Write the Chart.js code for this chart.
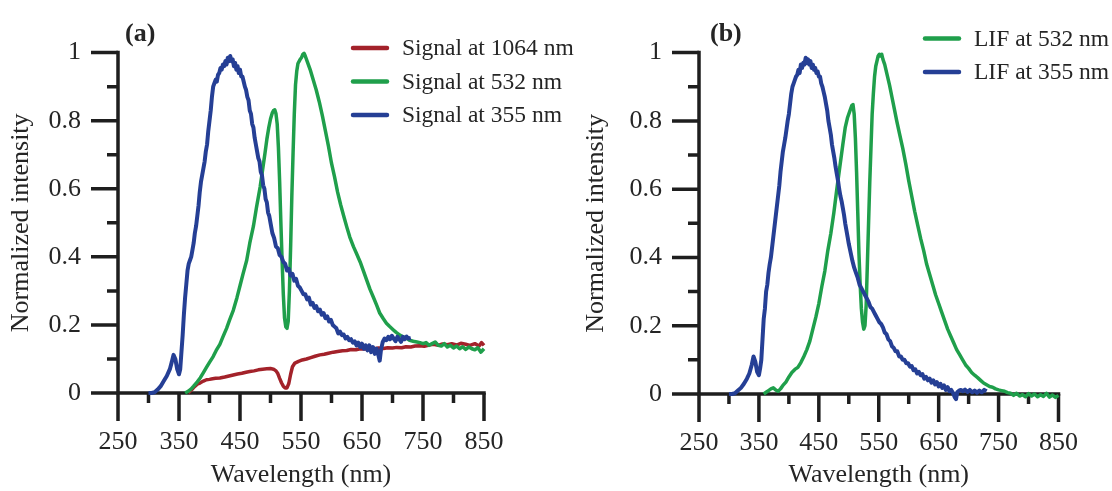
<!DOCTYPE html>
<html>
<head>
<meta charset="utf-8">
<script src="https://cdn.jsdelivr.net/npm/chart.js@4.4.1/dist/chart.umd.min.js"></script>
<style>
  html, body { margin: 0; padding: 0; background: #fff; }
  .panel { position: absolute; top: 0; height: 491px; }
</style>
</head>
<body>
<div class="panel" style="left:0;width:620px"><canvas id="chartA" width="620" height="491"></canvas></div>
<div class="panel" style="left:556px;width:556px"><canvas id="chartB" width="556" height="491"></canvas></div>
<script>
// axis ticks
const xTicks = [250, 350, 450, 550, 650, 750, 850];
const xTickLabels = ['250', '350', '450', '550', '650', '750', '850'];
const xMinorTicks = [300, 400, 500, 600, 700, 800];
const yTicks = [0, 0.2, 0.4, 0.6, 0.8, 1];
const yTickLabels = ['0', '0.2', '0.4', '0.6', '0.8', '1'];
const yMinorTicks = [0.1, 0.3, 0.5, 0.7, 0.9];

// (a) signals, [wavelength nm, normalized intensity]
const signal1064 = [[365,0],[370,0.008],[375,0.018],[380,0.026],[385,0.03],[390,0.035],[395,0.039],[400,0.04],[405,0.042],[410,0.043],[417,0.044],[425,0.047],[432,0.05],[439,0.053],[446,0.056],[453,0.058],[460,0.061],[466,0.063],[473,0.065],[480,0.068],[487,0.07],[494,0.071],[500,0.072],[505,0.07],[509,0.065],[512,0.057],[515,0.043],[518,0.03],[521,0.02],[524,0.015],[527,0.015],[530,0.028],[533,0.055],[536,0.077],[540,0.088],[546,0.093],[552,0.097],[559,0.1],[566,0.104],[573,0.108],[581,0.112],[588,0.114],[595,0.117],[603,0.12],[610,0.122],[618,0.124],[625,0.125],[632,0.128],[640,0.127],[647,0.13],[655,0.129],[662,0.131],[670,0.13],[677,0.132],[685,0.131],[692,0.133],[700,0.132],[707,0.134],[715,0.133],[722,0.136],[730,0.135],[737,0.138],[745,0.139],[752,0.137],[760,0.141],[767,0.143],[775,0.14],[782,0.144],[790,0.142],[797,0.145],[805,0.141],[812,0.146],[820,0.143],[827,0.14],[835,0.145],[842,0.138],[846,0.148],[850,0.14]];

const signal532 = [[360,0],[365,0.005],[370,0.012],[374,0.02],[380,0.033],[385,0.045],[390,0.06],[395,0.075],[400,0.09],[406,0.107],[411,0.125],[417,0.143],[422,0.165],[428,0.19],[433,0.215],[439,0.243],[445,0.28],[450,0.315],[455,0.35],[461,0.39],[466,0.44],[472,0.49],[477,0.545],[483,0.605],[487,0.655],[491,0.705],[494,0.745],[497,0.778],[500,0.805],[503,0.823],[505,0.83],[507,0.832],[509,0.82],[511,0.79],[513,0.72],[515,0.62],[517,0.5],[519,0.39],[521,0.29],[523,0.22],[525,0.195],[527,0.19],[529,0.21],[531,0.3],[533,0.43],[535,0.58],[537,0.705],[539,0.82],[541,0.905],[543,0.945],[545,0.968],[548,0.978],[551,0.986],[553,0.995],[555,0.998],[557,0.99],[560,0.975],[565,0.95],[570,0.92],[575,0.89],[580,0.855],[585,0.815],[590,0.77],[595,0.725],[600,0.675],[605,0.635],[610,0.59],[615,0.553],[620,0.52],[625,0.488],[630,0.458],[636,0.43],[641,0.41],[647,0.385],[652,0.36],[658,0.33],[663,0.305],[669,0.28],[674,0.258],[679,0.235],[685,0.218],[690,0.205],[695,0.196],[701,0.186],[706,0.178],[712,0.17],[717,0.165],[723,0.161],[728,0.155],[734,0.152],[740,0.15],[745,0.148],[750,0.145],[755,0.148],[760,0.14],[765,0.145],[770,0.15],[775,0.14],[780,0.138],[785,0.145],[790,0.135],[795,0.14],[800,0.132],[805,0.138],[810,0.13],[815,0.136],[820,0.128],[825,0.135],[830,0.13],[835,0.127],[840,0.133],[845,0.12],[850,0.13]];

const signal355 = [[300,0],[305,0],[310,0.002],[315,0.01],[320,0.02],[325,0.035],[330,0.05],[335,0.07],[338,0.09],[341,0.112],[344,0.1],[347,0.07],[350,0.055],[352,0.07],[354,0.12],[356,0.17],[358,0.23],[360,0.28],[362,0.32],[364,0.36],[366,0.38],[368,0.39],[370,0.4],[372,0.42],[374,0.44],[376,0.47],[378,0.49],[380,0.52],[382,0.55],[384,0.59],[386,0.62],[388,0.64],[390,0.66],[392,0.68],[394,0.71],[396,0.73],[398,0.77],[400,0.8],[402,0.83],[404,0.87],[406,0.9],[408,0.91],[410,0.92],[412,0.915],[414,0.935],[416,0.94],[418,0.955],[420,0.95],[422,0.965],[424,0.96],[426,0.975],[428,0.965],[430,0.985],[432,0.975],[434,0.99],[436,0.975],[438,0.98],[440,0.96],[442,0.97],[444,0.95],[446,0.96],[448,0.94],[450,0.95],[452,0.93],[454,0.93],[456,0.915],[458,0.9],[460,0.89],[462,0.87],[464,0.86],[466,0.83],[468,0.82],[470,0.79],[472,0.78],[474,0.75],[476,0.73],[478,0.71],[480,0.69],[482,0.68],[484,0.65],[486,0.64],[488,0.61],[490,0.6],[492,0.57],[494,0.56],[496,0.53],[498,0.52],[500,0.5],[503,0.47],[506,0.455],[509,0.43],[512,0.425],[515,0.405],[518,0.4],[521,0.385],[524,0.38],[527,0.36],[530,0.365],[533,0.345],[536,0.35],[539,0.33],[542,0.335],[545,0.315],[548,0.31],[551,0.3],[554,0.29],[557,0.29],[560,0.275],[563,0.28],[566,0.26],[569,0.265],[572,0.25],[575,0.255],[578,0.24],[581,0.245],[584,0.23],[587,0.235],[590,0.22],[593,0.225],[596,0.21],[599,0.215],[602,0.2],[605,0.195],[608,0.19],[611,0.175],[614,0.18],[617,0.17],[620,0.172],[623,0.16],[626,0.165],[629,0.155],[632,0.158],[635,0.148],[638,0.152],[641,0.14],[644,0.148],[647,0.135],[650,0.145],[653,0.13],[656,0.14],[659,0.125],[662,0.14],[665,0.12],[668,0.135],[671,0.115],[674,0.13],[677,0.11],[679,0.095],[681,0.125],[684,0.15],[687,0.16],[690,0.155],[693,0.165],[696,0.158],[699,0.168],[702,0.16],[705,0.152],[708,0.165],[711,0.158],[714,0.15],[717,0.165],[720,0.158],[723,0.166],[726,0.16],[730,0.162]];

// (b) LIF
const lif532 = [[358,0],[362,0.005],[366,0.01],[370,0.015],[374,0.018],[378,0.012],[382,0.008],[386,0.015],[390,0.025],[395,0.035],[400,0.05],[405,0.063],[410,0.072],[415,0.078],[420,0.092],[425,0.11],[430,0.13],[435,0.155],[440,0.19],[445,0.225],[450,0.265],[455,0.315],[460,0.36],[465,0.42],[470,0.47],[475,0.53],[480,0.6],[485,0.665],[490,0.73],[494,0.78],[498,0.81],[502,0.83],[505,0.845],[507,0.848],[509,0.82],[511,0.75],[513,0.65],[515,0.53],[517,0.41],[519,0.32],[521,0.25],[523,0.21],[525,0.19],[527,0.2],[529,0.26],[531,0.38],[533,0.5],[535,0.62],[537,0.72],[539,0.82],[541,0.88],[543,0.93],[545,0.96],[547,0.975],[549,0.99],[551,0.995],[553,0.99],[555,0.995],[557,0.98],[560,0.965],[564,0.935],[568,0.905],[572,0.87],[576,0.835],[580,0.8],[585,0.76],[590,0.72],[595,0.675],[600,0.625],[605,0.58],[610,0.535],[615,0.495],[620,0.455],[625,0.42],[630,0.38],[635,0.35],[640,0.32],[645,0.29],[650,0.265],[655,0.24],[660,0.215],[665,0.19],[670,0.17],[675,0.15],[680,0.13],[685,0.115],[690,0.1],[695,0.085],[700,0.075],[705,0.063],[710,0.055],[715,0.048],[720,0.04],[725,0.032],[730,0.027],[735,0.022],[740,0.02],[745,0.015],[750,0.012],[755,0.01],[760,0.008],[765,0.004],[770,0.002],[775,-0.004],[780,0.002],[785,-0.006],[790,-0.002],[795,-0.008],[800,0.001],[805,-0.006],[810,0],[815,-0.008],[820,-0.002],[825,-0.007],[830,0.002],[835,-0.009],[840,-0.003],[845,-0.01],[850,-0.004]];

const lif355 = [[300,0],[305,0],[310,0.002],[315,0.01],[320,0.018],[325,0.03],[330,0.045],[334,0.06],[338,0.085],[341,0.11],[344,0.095],[347,0.065],[350,0.055],[352,0.075],[354,0.1],[356,0.16],[358,0.22],[360,0.25],[362,0.3],[364,0.32],[366,0.355],[368,0.38],[370,0.4],[372,0.43],[374,0.46],[376,0.49],[378,0.52],[380,0.55],[382,0.58],[384,0.61],[386,0.65],[388,0.68],[390,0.71],[392,0.73],[394,0.75],[396,0.775],[398,0.8],[400,0.82],[402,0.85],[404,0.88],[406,0.9],[408,0.91],[410,0.92],[412,0.93],[414,0.935],[416,0.95],[418,0.94],[420,0.965],[422,0.955],[424,0.97],[426,0.965],[428,0.985],[430,0.97],[432,0.98],[434,0.965],[436,0.975],[438,0.955],[440,0.965],[442,0.95],[444,0.955],[446,0.94],[448,0.945],[450,0.93],[452,0.93],[454,0.91],[456,0.9],[458,0.885],[460,0.87],[462,0.85],[464,0.83],[466,0.8],[468,0.78],[470,0.76],[472,0.73],[474,0.71],[476,0.69],[478,0.665],[480,0.645],[482,0.625],[484,0.6],[486,0.58],[488,0.565],[490,0.545],[492,0.525],[494,0.5],[496,0.48],[498,0.46],[500,0.44],[503,0.415],[506,0.39],[509,0.37],[512,0.355],[515,0.34],[518,0.32],[521,0.31],[524,0.3],[527,0.29],[530,0.28],[533,0.27],[536,0.255],[539,0.25],[542,0.24],[545,0.23],[548,0.22],[551,0.21],[554,0.205],[557,0.195],[560,0.18],[563,0.175],[566,0.16],[569,0.155],[572,0.14],[575,0.135],[578,0.125],[581,0.125],[584,0.11],[587,0.11],[590,0.1],[593,0.1],[596,0.09],[599,0.09],[602,0.08],[605,0.082],[608,0.07],[611,0.072],[614,0.06],[617,0.065],[620,0.055],[623,0.058],[626,0.045],[629,0.05],[632,0.04],[635,0.045],[638,0.033],[641,0.04],[644,0.028],[647,0.035],[650,0.022],[653,0.03],[656,0.018],[659,0.025],[662,0.012],[665,0.02],[668,0.008],[671,0.012],[674,0.003],[677,-0.01],[679,-0.015],[681,0.005],[684,0.01],[687,0.012],[690,0.008],[694,0.013],[698,0.006],[702,0.012],[706,0.005],[710,0.01],[714,0.004],[718,0.01],[722,0.005],[726,0.012],[730,0.008]];

const RED = '#a3222a';
const GREEN = '#1f9f4b';
const BLUE = '#253f95';
const INK = '#252525';
const SERIF = "'Liberation Serif', 'Times New Roman', serif";

const toPoints = arr => arr.map(([x, y]) => ({ x, y }));

// thick axes with outward major / minor ticks
const axesPlugin = {
    id: 'paperAxes',
    beforeDatasetsDraw(chart) {
        const { ctx, chartArea: a, scales: { x, y } } = chart;
        ctx.save();
        ctx.strokeStyle = '#1e1e1e';
        ctx.lineWidth = 3.5;
        ctx.lineCap = 'square';
        ctx.beginPath();
        ctx.moveTo(a.left, a.top);
        ctx.lineTo(a.left, a.bottom);
        ctx.lineTo(a.right, a.bottom);
        ctx.stroke();
        ctx.lineCap = 'butt';
        ctx.beginPath();
        xTicks.forEach(v => { const p = x.getPixelForValue(v); ctx.moveTo(p, a.bottom); ctx.lineTo(p, a.bottom + 28); });
        xMinorTicks.forEach(v => { const p = x.getPixelForValue(v); ctx.moveTo(p, a.bottom); ctx.lineTo(p, a.bottom + 10); });
        yTicks.forEach(v => { const p = y.getPixelForValue(v); ctx.moveTo(a.left, p); ctx.lineTo(a.left - 27, p); });
        yMinorTicks.forEach(v => { const p = y.getPixelForValue(v); ctx.moveTo(a.left, p); ctx.lineTo(a.left - 11, p); });
        ctx.stroke();
        ctx.restore();
    }
};

// panel tag and in-plot legend
const panelPlugin = {
    id: 'panel',
    afterDraw(chart, args, opts) {
        const { ctx, chartArea: a } = chart;
        ctx.save();
        ctx.fillStyle = INK;
        ctx.textBaseline = 'middle';
        ctx.font = 'bold 26px ' + SERIF;
        ctx.fillText(opts.tag, a.left + opts.tagDx, 34);
        ctx.font = '23.5px ' + SERIF;
        opts.order.forEach((idx, row) => {
            const ds = chart.data.datasets[idx];
            const yy = opts.legendY + row * opts.rowGap;
            ctx.strokeStyle = ds.borderColor;
            ctx.lineWidth = 4.5;
            ctx.lineCap = 'round';
            ctx.beginPath();
            ctx.moveTo(opts.legendX, yy);
            ctx.lineTo(opts.legendX + 34, yy);
            ctx.stroke();
            ctx.fillStyle = INK;
            ctx.fillText(ds.label, opts.legendX + 49, yy + 1);
        });
        ctx.restore();
    }
};

function makeLine(label, data, color, order, width) {
    return {
        label, data: toPoints(data),
        borderColor: color, backgroundColor: color,
        borderWidth: width, pointRadius: 0, tension: 0,
        borderJoinStyle: 'round', clip: false, order
    };
}

function makeOptions(cfg) {
    return {
        responsive: false,
        animation: false,
        devicePixelRatio: 1,
        layout: { padding: { left: 0, right: cfg.padRight, top: cfg.padTop, bottom: 0 } },
        plugins: {
            legend: { display: false },
            tooltip: { enabled: false },
            panel: cfg.panel
        },
        scales: {
            x: {
                type: 'linear', min: 250, max: 850,
                afterBuildTicks: s => { s.ticks = xTicks.map(v => ({ value: v })); },
                afterFit: s => { s.height = cfg.xHeight; },
                grid: { display: false, drawTicks: false },
                border: { display: false },
                ticks: {
                    padding: 34, color: INK, autoSkip: false, maxRotation: 0,
                    font: { family: SERIF, size: 26, lineHeight: 1.2 },
                    callback: (v, i) => xTickLabels[i]
                },
                title: {
                    display: true, text: 'Wavelength (nm)', color: INK,
                    font: { family: SERIF, size: 26, lineHeight: 1.2 },
                    padding: { top: 0, bottom: 0 }
                }
            },
            y: {
                type: 'linear', min: 0, max: 1,
                afterBuildTicks: s => { s.ticks = yTicks.map(v => ({ value: v })); },
                afterFit: s => { s.width = cfg.yWidth; },
                grid: { display: false, drawTicks: false },
                border: { display: false },
                ticks: {
                    padding: 37, color: INK,
                    font: { family: SERIF, size: 26, lineHeight: 1.2 },
                    callback: (v, i) => yTickLabels[i]
                },
                title: {
                    display: true, text: 'Normalized intensity', color: INK,
                    font: { family: SERIF, size: 26, lineHeight: 1.2 },
                    padding: { top: cfg.yTitlePad, bottom: 0 }
                }
            }
        }
    };
}

new Chart(document.getElementById('chartA'), {
    type: 'line',
    data: {
        datasets: [
            makeLine('Signal at 1064 nm', signal1064, RED, 2, 3.5),
            makeLine('Signal at 532 nm', signal532, GREEN, 1, 3.5),
            makeLine('Signal at 355 nm', signal355, BLUE, 0, 4)
        ]
    },
    options: makeOptions({
        padRight: 136, padTop: 26, xHeight: 98, yWidth: 118, yTitlePad: 6,
        panel: { tag: '(a)', tagDx: 7, legendX: 353, legendY: 48, rowGap: 33.5, order: [0, 1, 2] }
    }),
    plugins: [axesPlugin, panelPlugin]
});

new Chart(document.getElementById('chartB'), {
    type: 'line',
    data: {
        datasets: [
            makeLine('LIF at 532 nm', lif532, GREEN, 1, 3.5),
            makeLine('LIF at 355 nm', lif355, BLUE, 0, 4)
        ]
    },
    options: makeOptions({
        padRight: 49, padTop: 28, xHeight: 97, yWidth: 143, yTitlePad: 25,
        panel: { tag: '(b)', tagDx: 11, legendX: 369, legendY: 38.5, rowGap: 33.5, order: [0, 1] }
    }),
    plugins: [axesPlugin, panelPlugin]
});
</script>
</body>
</html>
